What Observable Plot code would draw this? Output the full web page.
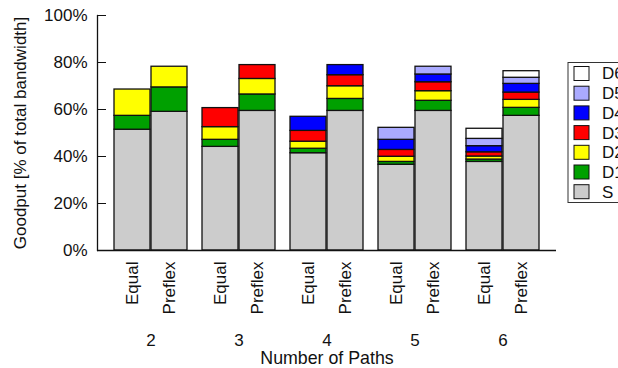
<!DOCTYPE html>
<html>
<head>
<meta charset="utf-8">
<script src="https://cdn.jsdelivr.net/npm/d3@7"></script>
<script src="https://cdn.jsdelivr.net/npm/@observablehq/plot@0.6"></script>
<style>
  html, body { margin: 0; padding: 0; background: #fff; }
</style>
</head>
<body>
<div id="chart"></div>
<script>
const groups = ["2", "3", "4", "5", "6"];
const schemes = ["Equal", "Preflex"];
const series = ["S", "D1", "D2", "D3", "D4", "D5", "D6"];
const colors = ["#cccccc", "#00a000", "#ffff00", "#ff0000", "#0000ff", "#aaaaff", "#ffffff"];
const yTicks = [0, 20, 40, 60, 80, 100];

// Goodput (% of total bandwidth), per group 2..6
const equalS  = [51.4, 44.1, 41.4, 36.5, 37.7];
const equalD1 = [5.9, 3.0, 1.9, 1.2, 1.0];
const equalD2 = [11.2, 5.4, 3.0, 2.2, 1.3];
const equalD3 = [null, 8.1, 4.6, 2.9, 1.8];
const equalD4 = [null, null, 6.0, 4.3, 2.6];
const equalD5 = [null, null, null, 5.1, 3.1];
const equalD6 = [null, null, null, null, 4.3];

const preflexS  = [59.0, 59.4, 59.4, 59.4, 57.3];
const preflexD1 = [10.4, 7.0, 5.1, 4.3, 3.4];
const preflexD2 = [8.8, 6.6, 5.4, 4.1, 3.4];
const preflexD3 = [null, 5.9, 4.7, 3.8, 3.1];
const preflexD4 = [null, null, 4.3, 3.3, 3.7];
const preflexD5 = [null, null, null, 3.3, 2.6];
const preflexD6 = [null, null, null, null, 2.8];

const equalVals = [equalS, equalD1, equalD2, equalD3, equalD4, equalD5, equalD6];
const preflexVals = [preflexS, preflexD1, preflexD2, preflexD3, preflexD4, preflexD5, preflexD6];

function rowsFor(scheme, vals) {
  const out = [];
  groups.forEach((g, gi) => {
    series.forEach((s, si) => {
      const v = vals[si][gi];
      if (v != null) out.push({group: g, scheme, series: s, value: v});
    });
  });
  return out;
}
const equalRows = rowsFor("Equal", equalVals);
const preflexRows = rowsFor("Preflex", preflexVals);

const labelRows = [];
groups.forEach(g => schemes.forEach(s => labelRows.push({group: g, scheme: s})));

const half = 37;
const font = "Liberation Sans, Arial, Helvetica, sans-serif";

const plot = Plot.plot({
  width: 618,
  height: 368,
  marginTop: 15,
  marginBottom: 118,
  marginLeft: 97,
  marginRight: 62,
  style: {fontFamily: font, fontSize: "17px", background: "#fff", color: "#111"},
  x: {domain: groups, paddingInner: 0.1685, paddingOuter: 0.163},
  y: {domain: [0, 100]},
  color: {domain: series, range: colors},
  marks: [
    Plot.barY(equalRows, {x: "group", y: "value", fill: "series", stroke: "#111", strokeWidth: 1.3, insetRight: half}),
    Plot.barY(preflexRows, {x: "group", y: "value", fill: "series", stroke: "#111", strokeWidth: 1.3, insetLeft: half}),
    Plot.ruleY([0], {stroke: "#111", strokeWidth: 1.3}),
    Plot.frame({anchor: "left", stroke: "#111", strokeWidth: 1.3}),
    Plot.axisY({ticks: yTicks, tickFormat: d => d + "%", tickSize: -9, tickPadding: 19, label: null, stroke: "#111"}),
    Plot.axisX({tickSize: 0, tickPadding: 83, label: null}),
    Plot.text(labelRows.filter(d => d.scheme === "Equal"), {x: "group", text: "scheme", frameAnchor: "bottom", dy: 11, dx: -half / 2, rotate: -90, textAnchor: "end", lineAnchor: "middle", fill: "#111"}),
    Plot.text(labelRows.filter(d => d.scheme === "Preflex"), {x: "group", text: "scheme", frameAnchor: "bottom", dy: 11, dx: half / 2, rotate: -90, textAnchor: "end", lineAnchor: "middle", fill: "#111"}),
    Plot.text(["Goodput [% of total bandwidth]"], {frameAnchor: "left", dx: -77, rotate: -90, textAnchor: "middle", lineAnchor: "middle", fill: "#111"}),
    Plot.text(["Number of Paths"], {frameAnchor: "bottom", dy: 108, textAnchor: "middle", lineAnchor: "middle", fontSize: 17.8, fill: "#111"})
  ]
});

// Legend
const svg = d3.select(plot);
const color = plot.scale("color");
const leg = svg.append("g").attr("font-family", font).attr("font-size", 17).attr("text-anchor", "start");
const legendItems = series.slice().reverse();
leg.append("rect").attr("x", 568).attr("y", 62.5).attr("width", 80).attr("height", 140)
  .attr("fill", "#fff").attr("stroke", "#333").attr("stroke-width", 1);
legendItems.forEach((s, i) => {
  const cy = 73.5 + i * 19.7;
  leg.append("rect").attr("x", 574).attr("y", cy - 7).attr("width", 15).attr("height", 14)
    .attr("fill", color.range[color.domain.indexOf(s)]).attr("stroke", "#111").attr("stroke-width", 1);
  leg.append("text").attr("x", 602).attr("y", cy).attr("dy", "0.35em").attr("text-anchor", "start").attr("fill", "#111").text(s);
});

document.getElementById("chart").appendChild(plot);
</script>
</body>
</html>
